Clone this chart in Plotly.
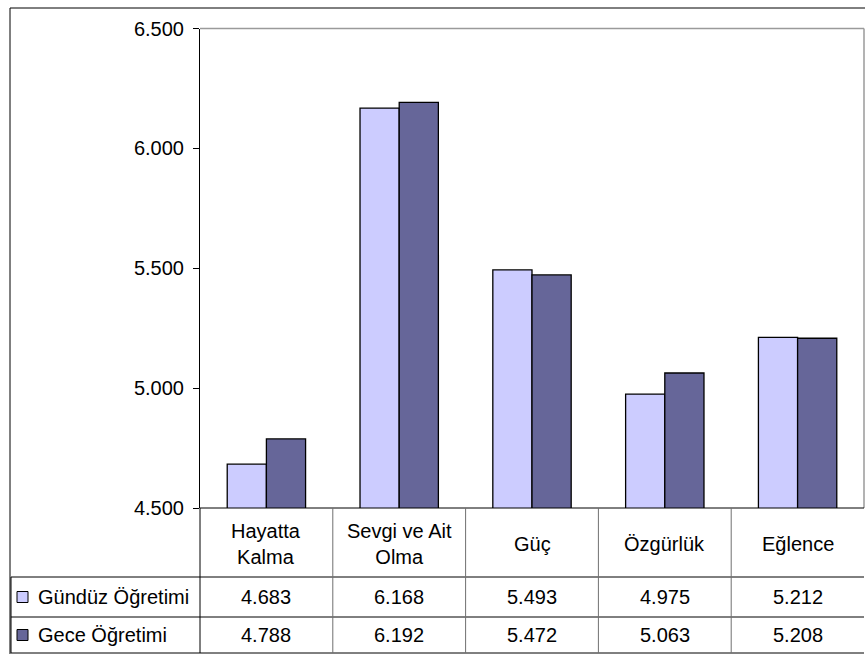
import plotly.graph_objects as go

categories = ["Hayatta Kalma", "Sevgi ve Ait Olma", "Güç", "Özgürlük", "Eğlence"]
header_labels = ["Hayatta<br>Kalma", "Sevgi ve Ait<br>Olma", "Güç", "Özgürlük", "Eğlence"]
series_names = ["Gündüz Öğretimi", "Gece Öğretimi"]
gunduz = [4.683, 6.168, 5.493, 4.975, 5.212]
gece = [4.788, 6.192, 5.472, 5.063, 5.208]
colors = ["#CCCCFF", "#666699"]
y_ticks = [4.5, 5.0, 5.5, 6.0, 6.5]

W, H = 865, 655
FONT = "Liberation Sans, Arial, sans-serif"
FS = 20

def px(x):
    return x / W

def py(y):
    return 1 - y / H

fig = go.Figure()
for name, vals, col in zip(series_names, [gunduz, gece], colors):
    fig.add_trace(go.Bar(
        x=categories, y=vals, name=name,
        marker=dict(color=col, line=dict(color="black", width=1.3)),
        showlegend=False,
    ))

PL, PR, PT, PB = 200, 864, 28.5, 508
R1, R2, R3 = 577, 617, 653

shapes = []
def line(x0, y0, x1, y1, color="black", w=1, xref="paper"):
    shapes.append(dict(type="line", xref=xref, yref="paper",
                       x0=x0, y0=py(y0), x1=x1, y1=py(y1),
                       line=dict(color=color, width=w)))

# outer chart frame
line(px(10), 8, px(866), 8)
line(px(10), 8, px(10), 654)
# plot area border (gray)
line(px(PL), PT, px(PR), PT, color="#9a9a9a", w=1.5)
line(px(PR), PT, px(PR), PB, color="#9a9a9a", w=1.5)
# table lines
line(px(PL), PB, px(PR), PB)
for yy in (R1, R2, R3):
    line(px(11), yy, px(PR), yy)
line(px(PL), PB, px(PL), R3)
line(px(11), R1, px(11), R3)
for i in range(len(categories) - 1):
    line(i + 0.5, PB, i + 0.5, R3, color="#707070", xref="x")

annotations = []
for i, lab in enumerate(header_labels):
    annotations.append(dict(x=i, xref="x", y=py(544), yref="paper", text=lab,
                            showarrow=False, xanchor="center", yanchor="middle",
                            font=dict(family=FONT, size=FS, color="black")))
row_y = [597, 635]
for r, (vals, name, col) in enumerate(zip([gunduz, gece], series_names, colors)):
    for i, v in enumerate(vals):
        annotations.append(dict(x=i, xref="x", y=py(row_y[r]), yref="paper",
                                text=f"{v:.3f}", showarrow=False,
                                xanchor="center", yanchor="middle",
                                font=dict(family=FONT, size=FS, color="black")))
    annotations.append(dict(x=px(36), xref="paper", y=py(row_y[r]), yref="paper",
                            text=name, showarrow=False, xanchor="left", yanchor="middle",
                            font=dict(family=FONT, size=FS, color="black")))
    shapes.append(dict(type="rect", xref="paper", yref="paper",
                       x0=px(17), x1=px(28), y0=py(row_y[r] + 5.5), y1=py(row_y[r] - 5.5),
                       fillcolor=col, line=dict(color="black", width=1)))

fig.update_layout(
    width=W, height=H, autosize=False,
    margin=dict(l=0, r=0, t=0, b=0, autoexpand=False),
    paper_bgcolor="white", plot_bgcolor="white",
    barmode="group", bargap=0.41, bargroupgap=0,
    font=dict(family=FONT, size=FS, color="black"),
    xaxis=dict(domain=[px(PL), px(PR)], range=[-0.5, len(categories) - 0.5],
               showticklabels=False, ticks="", showgrid=False, zeroline=False,
               showline=False, fixedrange=True, automargin=False),
    yaxis=dict(domain=[py(PB), py(PT)], range=[4.5, 6.5], tickvals=y_ticks,
               tickformat=".3f", ticks="outside", ticklen=6, tickcolor="black",
               showline=True, linecolor="black", linewidth=1, showgrid=False,
               zeroline=False, tickfont=dict(family=FONT, size=FS, color="black"),
               ticklabelstandoff=5, automargin=False, fixedrange=True),
    shapes=shapes, annotations=annotations,
)

fig.write_html(
    "out.html",
    config={"displayModeBar": False},
    post_script="document.body.style.margin='0';document.body.style.overflow='hidden';",
)
